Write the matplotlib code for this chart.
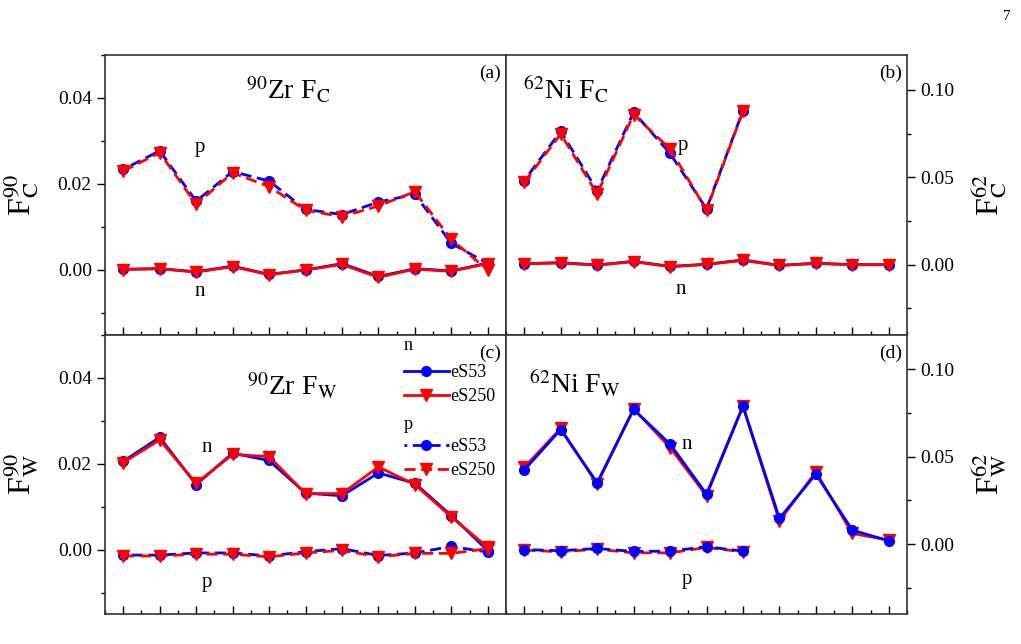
import matplotlib
matplotlib.use('Agg')
import matplotlib.pyplot as plt
from matplotlib.ticker import MultipleLocator

plt.rcParams['font.family'] = ['Liberation Serif', 'DejaVu Serif']
plt.rcParams['mathtext.fontset'] = 'stix'

# data
x11 = list(range(1, 12))
x7 = list(range(1, 8))

# (a) 90Zr F_C
zrC_n_53 = [0.0002, 0.0003, -0.0004, 0.0009, -0.0010, 0.0000, 0.0015, -0.0015, 0.0003, -0.0002, 0.0016]
zrC_n_250 = [0.0001, 0.0003, -0.0005, 0.0008, -0.0011, 0.0000, 0.0013, -0.0017, 0.0002, -0.0003, 0.0015]
zrC_p_53 = [0.0234, 0.0277, 0.0160, 0.0229, 0.0207, 0.0141, 0.0129, 0.0158, 0.0176, 0.0062, 0.0015]
zrC_p_250 = [0.0230, 0.0273, 0.0153, 0.0226, 0.0194, 0.0139, 0.0124, 0.0149, 0.0182, 0.0071, 0.0000]

# (b) 62Ni F_C
niC_n_53 = [0.0006, 0.0011, -0.0002, 0.0019, -0.0010, 0.0002, 0.0027, -0.0004, 0.0008, 0.0000, 0.0000]
niC_n_250 = [0.0005, 0.0010, -0.0003, 0.0017, -0.0012, 0.0001, 0.0024, -0.0005, 0.0007, -0.0001, -0.0001]
niC_p_53 = [0.0481, 0.0763, 0.0424, 0.0872, 0.0637, 0.0319, 0.0882]
niC_p_250 = [0.0471, 0.0748, 0.0405, 0.0859, 0.0662, 0.0313, 0.0878]

# (c) 90Zr F_W
zrW_n_53 = [0.0205, 0.0261, 0.0151, 0.0224, 0.0207, 0.0131, 0.0125, 0.0178, 0.0154, 0.0079, -0.0003]
zrW_n_250 = [0.0202, 0.0255, 0.0154, 0.0221, 0.0216, 0.0130, 0.0130, 0.0192, 0.0151, 0.0076, 0.0005]
zrW_p_53 = [-0.0013, -0.0013, -0.0008, -0.0008, -0.0015, -0.0005, 0.0002, -0.0014, -0.0008, 0.0007, -0.0006]
zrW_p_250 = [-0.0015, -0.0015, -0.0011, -0.0011, -0.0017, -0.0008, -0.0002, -0.0017, -0.0009, -0.0009, 0.0002]

# (d) 62Ni F_W
niW_n_53 = [0.0424, 0.0656, 0.0351, 0.0771, 0.0573, 0.0286, 0.0790, 0.0147, 0.0401, 0.0080, 0.0019]
niW_n_250 = [0.0439, 0.0662, 0.0344, 0.0775, 0.0553, 0.0277, 0.0790, 0.0132, 0.0414, 0.0061, 0.0023]
niW_p_53 = [-0.0031, -0.0038, -0.0025, -0.0042, -0.0040, -0.0015, -0.0040]
niW_p_250 = [-0.0034, -0.0044, -0.0029, -0.0050, -0.0050, -0.0019, -0.0044]

blue = '#0000ff'
red = '#ff0000'
lw = 2.0
ms = 7

fig, axs = plt.subplots(2, 2, figsize=(10.21, 6.44), dpi=100)
fig.subplots_adjust(left=105/1021, right=907/1021, top=1-55/644, bottom=1-614/644,
                    wspace=0, hspace=0)


def draw(ax, xn, n53, n250, xp, p53, p250, blue_on_top=False):
    z_b, z_r = (3, 2) if blue_on_top else (2, 3)
    ax.plot(xn, n53, color=blue, lw=lw, marker='o', ms=ms, zorder=z_b)
    ax.plot(xn, n250, color=red, lw=lw, marker='v', ms=ms + 1, zorder=z_r)
    ax.plot(xp, p53, color=blue, lw=lw, marker='o', ms=ms, ls=(3, (4, 2)), zorder=z_b)
    ax.plot(xp, p250, color=red, lw=lw, marker='v', ms=ms + 1, ls=(0, (4, 2)), zorder=z_r)


def style(ax, right=False):
    ax.set_xlim(0.5, 11.5)
    ax.xaxis.set_major_locator(MultipleLocator(1))
    ax.xaxis.set_minor_locator(MultipleLocator(0.5))
    ax.tick_params(axis='x', which='both', direction='in', labelbottom=False)
    ax.tick_params(axis='x', which='major', length=6, width=1)
    ax.tick_params(axis='x', which='minor', length=3, width=1)
    if right:
        ax.set_ylim(-0.04, 0.12)
        ax.yaxis.set_major_locator(MultipleLocator(0.05))
        ax.yaxis.set_minor_locator(MultipleLocator(0.025))
        ax.yaxis.tick_right()
        ax.yaxis.set_label_position('right')
        ax.yaxis.set_label_coords(1.155, 0.5)
    else:
        ax.set_ylim(-0.015, 0.05)
        ax.yaxis.set_major_locator(MultipleLocator(0.02))
        ax.yaxis.set_minor_locator(MultipleLocator(0.01))
        ax.yaxis.set_label_coords(-0.16, 0.5)
    ax.yaxis.set_major_formatter(matplotlib.ticker.FormatStrFormatter('%.2f'))
    ax.tick_params(axis='y', which='both', direction='out', labelsize=14)
    ax.tick_params(axis='y', which='major', length=6, width=1)
    ax.tick_params(axis='y', which='minor', length=3, width=1)
    for s in ax.spines.values():
        s.set_linewidth(1.2)
        s.set_color('#333333')


ax_a, ax_b = axs[0]
ax_c, ax_d = axs[1]

draw(ax_a, x11, zrC_n_53, zrC_n_250, x11, zrC_p_53, zrC_p_250)
draw(ax_b, x11, niC_n_53, niC_n_250, x7, niC_p_53, niC_p_250)
draw(ax_c, x11, zrW_n_53, zrW_n_250, x11, zrW_p_53, zrW_p_250)
draw(ax_d, x11, niW_n_53, niW_n_250, x7, niW_p_53, niW_p_250, blue_on_top=True)

style(ax_a)
style(ax_b, right=True)
style(ax_c)
style(ax_d, right=True)

ax_a.set_ylabel(r'F$^{90}_{\mathrm{C}}$', fontsize=23)
ax_b.set_ylabel(r'F$^{62}_{\mathrm{C}}$', fontsize=23)
ax_c.set_ylabel(r'F$^{90}_{\mathrm{W}}$', fontsize=23)
ax_d.set_ylabel(r'F$^{62}_{\mathrm{W}}$', fontsize=23)

tfs = 20
ax_a.text(0.4575, 0.874, r'$^{90}$Zr F$_{\mathrm{C}}$', transform=ax_a.transAxes,
          ha='center', va='center', fontsize=tfs)
ax_b.text(0.15, 0.874, r'$^{62}$Ni F$_{\mathrm{C}}$', transform=ax_b.transAxes,
          ha='center', va='center', fontsize=tfs)
ax_c.text(0.4675, 0.815, r'$^{90}$Zr F$_{\mathrm{W}}$', transform=ax_c.transAxes,
          ha='center', va='center', fontsize=tfs)
ax_d.text(0.172, 0.822, r'$^{62}$Ni F$_{\mathrm{W}}$', transform=ax_d.transAxes,
          ha='center', va='center', fontsize=tfs)

for ax, lab, y in [(ax_a, '(a)', 0.935), (ax_b, '(b)', 0.935), (ax_c, '(c)', 0.932), (ax_d, '(d)', 0.932)]:
    ax.text(0.988, y, lab, transform=ax.transAxes, ha='right', va='center', fontsize=14)

nfs = 15
ax_a.text(3.1, 0.0284, 'p', ha='center', va='center', fontsize=nfs)
ax_a.text(3.1, -0.0049, 'n', ha='center', va='center', fontsize=nfs)
ax_b.text(5.35, 0.0683, 'p', ha='center', va='center', fontsize=nfs)
ax_b.text(5.3, -0.0143, 'n', ha='center', va='center', fontsize=nfs)
ax_c.text(3.3, 0.0238, 'n', ha='center', va='center', fontsize=nfs)
ax_c.text(3.3, -0.0076, 'p', ha='center', va='center', fontsize=nfs)
ax_d.text(5.46, 0.0573, 'n', ha='center', va='center', fontsize=nfs)
ax_d.text(5.46, -0.0201, 'p', ha='center', va='center', fontsize=nfs)

# legend in panel (c)
h = ax_c.get_lines()
leg_kw = dict(frameon=False, fontsize=13, handlelength=2.5, handletextpad=0.1,
              labelspacing=0.4, borderpad=0, borderaxespad=0, alignment='left',
              title_fontsize=13)
leg1 = ax_c.legend([h[0], h[1]], ['eS53', 'eS250'], title='n', loc='upper left',
                   bbox_to_anchor=(0.745, 0.99), **leg_kw)
leg1._legend_box.sep = 7
ax_c.add_artist(leg1)
leg2 = ax_c.legend([h[2], h[3]], ['eS53', 'eS250'], title='p', loc='upper left',
                   bbox_to_anchor=(0.745, 0.71), **leg_kw)
leg2._legend_box.sep = 4

fig.text(1007/1021, 1-17/644, '7', ha='center', va='center', fontsize=11)

fig.savefig('out.png', dpi=100)
